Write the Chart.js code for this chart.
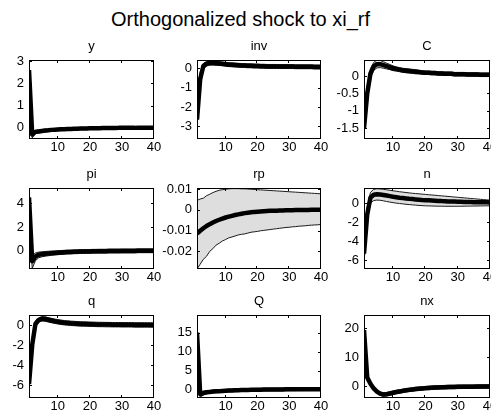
<!DOCTYPE html>
<html><head><meta charset="utf-8">
<script src="https://cdn.jsdelivr.net/npm/chart.js@4.4.1/dist/chart.umd.min.js"></script>
<style>
html,body{margin:0;padding:0;background:#fff;width:491px;height:417px;overflow:hidden;position:relative;}
#title{position:absolute;left:0;top:8px;width:481px;text-align:center;font-size:20px;line-height:23px;font-family:"Liberation Sans",Arial,sans-serif;color:#000;white-space:nowrap;}
canvas{position:absolute;}
</style></head><body>
<div id="title">Orthogonalized shock to xi_rf</div>
<script>
// ---------------- DATA ----------------
const periods = [1,2,3,4,5,6,7,8,9,10,11,12,13,14,15,16,17,18,19,20,21,22,23,24,25,26,27,28,29,30,31,32,33,34,35,36,37,38,39,40];
const xTicks = [10,20,30,40];
const panelNames = ['y','inv','C','pi','rp','n','q','Q','nx'];

const y_mean  = [2.60,-0.30,-0.18,-0.16,-0.14,-0.12,-0.11,-0.09,-0.08,-0.07,-0.06,-0.06,-0.05,-0.05,-0.04,-0.04,-0.03,-0.03,-0.03,-0.02,-0.02,-0.02,-0.02,-0.01,-0.01,-0.01,-0.01,-0.01,0.00,0.00,0.00,0.00,0.00,0.00,0.01,0.01,0.01,0.01,0.01,0.01];
const y_lower = [2.45,-0.45,-0.26,-0.23,-0.21,-0.19,-0.17,-0.15,-0.14,-0.13,-0.12,-0.11,-0.10,-0.10,-0.09,-0.09,-0.08,-0.08,-0.08,-0.07,-0.07,-0.07,-0.07,-0.06,-0.06,-0.06,-0.06,-0.06,-0.05,-0.05,-0.05,-0.05,-0.05,-0.05,-0.05,-0.05,-0.05,-0.05,-0.05,-0.05];
const y_upper = [2.75,-0.18,-0.11,-0.09,-0.08,-0.06,-0.05,-0.04,-0.03,-0.02,-0.01,-0.01,0.00,0.00,0.01,0.01,0.02,0.02,0.02,0.03,0.03,0.03,0.03,0.04,0.04,0.04,0.04,0.04,0.05,0.05,0.05,0.05,0.05,0.05,0.06,0.06,0.06,0.06,0.06,0.06];
const y_ticks = [0,1,2,3];
const y_tickLabels = ['0','1','2','3'];

const inv_mean  = [-2.65,-0.55,0.12,0.24,0.27,0.27,0.26,0.25,0.23,0.21,0.19,0.18,0.17,0.16,0.15,0.14,0.13,0.13,0.12,0.12,0.11,0.11,0.10,0.10,0.10,0.10,0.09,0.09,0.09,0.09,0.09,0.08,0.08,0.08,0.08,0.08,0.08,0.07,0.07,0.07];
const inv_lower = [-3.00,-1.00,-0.05,0.12,0.16,0.17,0.16,0.15,0.13,0.11,0.09,0.08,0.07,0.06,0.05,0.04,0.03,0.03,0.02,0.02,0.01,0.01,0.00,0.00,0.00,0.00,-0.01,-0.01,-0.01,-0.01,-0.01,-0.02,-0.02,-0.02,-0.02,-0.02,-0.02,-0.03,-0.03,-0.03];
const inv_upper = [-2.35,-0.20,0.25,0.34,0.37,0.37,0.36,0.35,0.33,0.31,0.29,0.28,0.27,0.26,0.25,0.24,0.23,0.23,0.22,0.22,0.21,0.21,0.20,0.20,0.20,0.20,0.19,0.19,0.19,0.19,0.19,0.18,0.18,0.18,0.18,0.18,0.18,0.17,0.17,0.17];
const inv_ticks = [-3,-2,-1,0];
const inv_tickLabels = ['-3','-2','-1','0'];

const C_mean  = [-1.50,-0.50,0.08,0.28,0.35,0.35,0.32,0.29,0.26,0.23,0.21,0.19,0.17,0.16,0.15,0.14,0.13,0.12,0.11,0.10,0.10,0.09,0.09,0.08,0.08,0.07,0.07,0.07,0.06,0.06,0.06,0.06,0.05,0.05,0.05,0.05,0.04,0.04,0.04,0.04];
const C_lower = [-1.70,-0.75,-0.05,0.17,0.24,0.25,0.23,0.21,0.19,0.16,0.15,0.13,0.11,0.10,0.09,0.08,0.07,0.07,0.06,0.05,0.05,0.04,0.04,0.03,0.03,0.02,0.02,0.02,0.01,0.01,0.01,0.01,0.00,0.00,0.00,0.00,-0.01,-0.01,-0.01,-0.01];
const C_upper = [-1.30,-0.28,0.22,0.40,0.47,0.46,0.42,0.38,0.34,0.30,0.27,0.25,0.23,0.22,0.21,0.20,0.19,0.17,0.16,0.15,0.15,0.14,0.14,0.13,0.13,0.12,0.12,0.12,0.11,0.11,0.11,0.11,0.10,0.10,0.10,0.10,0.09,0.09,0.09,0.09];
const C_ticks = [-1.5,-1,-0.5,0];
const C_tickLabels = ['-1.5','-1','-0.5','0'];

const pi_mean  = [4.50,-0.90,-0.50,-0.35,-0.30,-0.27,-0.24,-0.21,-0.19,-0.17,-0.15,-0.13,-0.12,-0.11,-0.10,-0.09,-0.08,-0.07,-0.06,-0.06,-0.05,-0.05,-0.04,-0.04,-0.04,-0.03,-0.03,-0.03,-0.03,-0.02,-0.02,-0.02,-0.02,-0.02,-0.01,-0.01,-0.01,-0.01,-0.01,-0.01];
const pi_lower = [4.15,-1.50,-0.85,-0.60,-0.52,-0.47,-0.43,-0.39,-0.36,-0.34,-0.32,-0.30,-0.28,-0.27,-0.26,-0.25,-0.24,-0.23,-0.22,-0.22,-0.21,-0.21,-0.20,-0.20,-0.20,-0.19,-0.19,-0.19,-0.19,-0.18,-0.18,-0.18,-0.18,-0.18,-0.17,-0.17,-0.17,-0.17,-0.17,-0.17];
const pi_upper = [4.85,-0.40,-0.20,-0.12,-0.09,-0.07,-0.05,-0.03,-0.02,0.00,0.01,0.03,0.04,0.05,0.06,0.07,0.08,0.09,0.10,0.10,0.11,0.11,0.12,0.12,0.12,0.13,0.13,0.13,0.13,0.14,0.14,0.14,0.14,0.14,0.15,0.15,0.15,0.15,0.15,0.15];
const pi_ticks = [0,2,4];
const pi_tickLabels = ['0','2','4'];

const rp_mean  = [-0.0115,-0.0101,-0.0089,-0.0078,-0.0069,-0.0061,-0.0054,-0.0048,-0.0042,-0.0037,-0.0033,-0.0029,-0.0025,-0.0022,-0.0019,-0.0016,-0.0014,-0.0012,-0.0010,-0.0009,-0.0008,-0.0007,-0.0006,-0.0005,-0.0004,-0.0004,-0.0003,-0.0003,-0.0002,-0.0002,-0.0002,-0.0001,-0.0001,-0.0001,-0.0001,-0.0001,0.0000,0.0000,0.0000,0.0000];
const rp_lower = [-0.0285,-0.0262,-0.0238,-0.0224,-0.0200,-0.0187,-0.0170,-0.0161,-0.0150,-0.0143,-0.0135,-0.0131,-0.0126,-0.0121,-0.0118,-0.0116,-0.0112,-0.0108,-0.0106,-0.0104,-0.0101,-0.0099,-0.0097,-0.0095,-0.0093,-0.0091,-0.0089,-0.0087,-0.0085,-0.0084,-0.0082,-0.0081,-0.0079,-0.0078,-0.0077,-0.0075,-0.0074,-0.0073,-0.0072,-0.0071];
const rp_upper = [0.0045,0.0052,0.0056,0.0068,0.0075,0.0083,0.0089,0.0094,0.0097,0.0099,0.0101,0.0102,0.0102,0.0102,0.0101,0.0101,0.0100,0.0099,0.0098,0.0097,0.0096,0.0095,0.0094,0.0093,0.0092,0.0091,0.0090,0.0089,0.0088,0.0087,0.0086,0.0085,0.0084,0.0083,0.0082,0.0081,0.0080,0.0079,0.0078,0.0077];
const rp_ticks = [-0.02,-0.01,0,0.01];
const rp_tickLabels = ['-0.02','-0.01','0','0.01'];

const n_mean  = [-5.30,-1.20,0.55,0.85,0.90,0.88,0.83,0.77,0.71,0.65,0.60,0.55,0.51,0.47,0.43,0.40,0.37,0.34,0.31,0.29,0.27,0.25,0.23,0.21,0.19,0.18,0.16,0.15,0.14,0.13,0.12,0.11,0.10,0.09,0.08,0.08,0.07,0.06,0.06,0.05];
const n_lower = [-6.30,-2.00,0.00,0.25,0.30,0.28,0.22,0.15,0.09,0.03,-0.02,-0.06,-0.10,-0.14,-0.17,-0.20,-0.23,-0.26,-0.28,-0.30,-0.31,-0.32,-0.33,-0.34,-0.34,-0.35,-0.35,-0.35,-0.35,-0.35,-0.34,-0.34,-0.33,-0.33,-0.32,-0.32,-0.31,-0.31,-0.30,-0.30];
const n_upper = [-4.40,-0.40,1.10,1.42,1.48,1.46,1.42,1.37,1.32,1.27,1.22,1.17,1.13,1.09,1.05,1.01,0.98,0.95,0.92,0.89,0.86,0.83,0.80,0.77,0.74,0.71,0.68,0.65,0.62,0.59,0.56,0.53,0.50,0.47,0.44,0.41,0.38,0.35,0.32,0.30];
const n_ticks = [-6,-4,-2,0];
const n_tickLabels = ['-6','-4','-2','0'];

const q_mean  = [-5.90,-2.00,0.10,0.50,0.62,0.60,0.52,0.45,0.38,0.32,0.27,0.23,0.20,0.17,0.15,0.13,0.11,0.10,0.09,0.08,0.07,0.06,0.05,0.05,0.04,0.04,0.03,0.03,0.03,0.02,0.02,0.02,0.02,0.01,0.01,0.01,0.01,0.01,0.00,0.00];
const q_lower = [-6.50,-2.80,-0.20,0.28,0.40,0.38,0.30,0.23,0.16,0.10,0.05,0.01,-0.02,-0.05,-0.07,-0.09,-0.11,-0.12,-0.13,-0.14,-0.15,-0.16,-0.17,-0.17,-0.18,-0.18,-0.19,-0.19,-0.19,-0.20,-0.20,-0.20,-0.20,-0.21,-0.21,-0.21,-0.21,-0.21,-0.22,-0.22];
const q_upper = [-5.30,-1.30,0.38,0.72,0.84,0.82,0.74,0.67,0.60,0.54,0.49,0.45,0.42,0.39,0.37,0.35,0.33,0.32,0.31,0.30,0.29,0.28,0.27,0.27,0.26,0.26,0.25,0.25,0.25,0.24,0.24,0.24,0.24,0.23,0.23,0.23,0.23,0.23,0.22,0.22];
const q_ticks = [-6,-4,-2,0];
const q_tickLabels = ['-6','-4','-2','0'];

const Q_mean  = [15.00,-1.20,-0.90,-0.70,-0.60,-0.50,-0.45,-0.40,-0.35,-0.30,-0.26,-0.22,-0.19,-0.16,-0.13,-0.10,-0.08,-0.06,-0.04,-0.02,-0.01,0.00,0.01,0.02,0.03,0.04,0.05,0.06,0.07,0.08,0.08,0.09,0.10,0.10,0.11,0.11,0.12,0.12,0.13,0.13];
const Q_lower = [14.20,-2.00,-1.40,-1.10,-0.98,-0.87,-0.81,-0.75,-0.70,-0.65,-0.61,-0.57,-0.54,-0.51,-0.48,-0.45,-0.43,-0.41,-0.39,-0.37,-0.36,-0.35,-0.34,-0.33,-0.32,-0.31,-0.30,-0.29,-0.28,-0.27,-0.27,-0.26,-0.25,-0.25,-0.24,-0.24,-0.23,-0.23,-0.22,-0.22];
const Q_upper = [15.80,-0.50,-0.45,-0.35,-0.25,-0.15,-0.10,-0.05,0.00,0.05,0.09,0.13,0.16,0.19,0.22,0.25,0.27,0.29,0.31,0.33,0.34,0.35,0.36,0.37,0.38,0.39,0.40,0.41,0.42,0.43,0.43,0.44,0.45,0.45,0.46,0.46,0.47,0.47,0.48,0.48];
const Q_ticks = [0,5,10,15];
const Q_tickLabels = ['0','5','10','15'];

const nx_mean  = [19.30,3.00,0.80,-0.80,-1.90,-2.60,-2.90,-2.80,-2.55,-2.30,-2.05,-1.85,-1.65,-1.45,-1.30,-1.15,-1.00,-0.90,-0.80,-0.70,-0.62,-0.55,-0.49,-0.44,-0.40,-0.36,-0.33,-0.30,-0.28,-0.26,-0.24,-0.22,-0.21,-0.20,-0.19,-0.18,-0.17,-0.16,-0.15,-0.15];
const nx_lower = [18.00,1.80,0.20,-1.40,-2.50,-3.20,-3.50,-3.40,-3.15,-2.90,-2.65,-2.45,-2.25,-2.05,-1.90,-1.75,-1.60,-1.50,-1.40,-1.30,-1.22,-1.15,-1.09,-1.04,-1.00,-0.96,-0.93,-0.90,-0.88,-0.86,-0.84,-0.82,-0.81,-0.80,-0.79,-0.78,-0.77,-0.76,-0.75,-0.75];
const nx_upper = [20.50,4.20,1.40,-0.20,-1.30,-2.00,-2.30,-2.20,-1.95,-1.70,-1.45,-1.25,-1.05,-0.85,-0.70,-0.55,-0.40,-0.30,-0.20,-0.10,-0.02,0.05,0.11,0.16,0.20,0.24,0.27,0.30,0.32,0.34,0.36,0.38,0.39,0.40,0.41,0.42,0.43,0.44,0.45,0.45];
const nx_ticks = [0,10,20];
const nx_tickLabels = ['0','10','20'];

// axis limits
const yMins = [-0.50,-3.65,-1.82,-1.55,-0.0285,-6.90,-7.30,-2.20,-4.10];
const yMaxs = [3.05,0.43,0.47,5.30,0.0105,1.56,1.00,19.60,24.50];

// ---------------- LAYOUT ----------------
const colL = [29,197,364], colR = [154,321,490];
const rowT = [60,188,315], rowB = [139,269,398];
const AXW = 45, TITLEH = 22, XAXH = 20, PADR = 14;
const FONT = '"Liberation Sans", Arial, sans-serif';

Chart.defaults.font.family = FONT;
Chart.defaults.font.size = 13;
Chart.defaults.color = '#000';

const boxPlugin = {
  id: 'matlabBox',
  afterDraw(chart) {
    const {ctx, chartArea: a, scales: {x, y}} = chart;
    ctx.save();
    ctx.strokeStyle = '#000';
    ctx.lineWidth = 1;
    ctx.strokeRect(a.left + 0.5, a.top + 0.5, a.right - a.left - 1, a.bottom - a.top - 1);
    ctx.beginPath();
    const tl = 3;
    x.ticks.forEach(t => {
      const px = Math.round(x.getPixelForValue(t.value)) - 0.5;
      ctx.moveTo(px, a.bottom); ctx.lineTo(px, a.bottom - tl);
      ctx.moveTo(px, a.top); ctx.lineTo(px, a.top + tl);
    });
    y.ticks.forEach(t => {
      const py = Math.round(y.getPixelForValue(t.value)) + 0.5;
      ctx.moveTo(a.left, py); ctx.lineTo(a.left + tl, py);
      ctx.moveTo(a.right, py); ctx.lineTo(a.right - tl, py);
    });
    ctx.stroke();
    ctx.restore();
  }
};

const series = {
  y: [y_mean, y_lower, y_upper, y_ticks, y_tickLabels],
  inv: [inv_mean, inv_lower, inv_upper, inv_ticks, inv_tickLabels],
  C: [C_mean, C_lower, C_upper, C_ticks, C_tickLabels],
  pi: [pi_mean, pi_lower, pi_upper, pi_ticks, pi_tickLabels],
  rp: [rp_mean, rp_lower, rp_upper, rp_ticks, rp_tickLabels],
  n: [n_mean, n_lower, n_upper, n_ticks, n_tickLabels],
  q: [q_mean, q_lower, q_upper, q_ticks, q_tickLabels],
  Q: [Q_mean, Q_lower, Q_upper, Q_ticks, Q_tickLabels],
  nx: [nx_mean, nx_lower, nx_upper, nx_ticks, nx_tickLabels]
};

panelNames.forEach((name, i) => {
  const r = Math.floor(i / 3), c = i % 3;
  const L = colL[c], R = colR[c], T = rowT[r], B = rowB[r];
  const cv = document.createElement('canvas');
  const w = (R - L) + AXW + PADR, h = (B - T) + TITLEH + XAXH;
  cv.width = w; cv.height = h;
  cv.style.left = (L - AXW) + 'px';
  cv.style.top = (T - TITLEH) + 'px';
  cv.style.width = w + 'px'; cv.style.height = h + 'px';
  document.body.appendChild(cv);
  const [mean, lower, upper, ticks, tickLabels] = series[name];
  new Chart(cv, {
    type: 'line',
    data: {
      labels: periods,
      datasets: [
        {data: mean, borderColor: '#000', borderWidth: 4.5, pointRadius: 0, fill: false, order: 0, clip: 0, borderJoinStyle: 'round'},
        {data: lower, borderColor: '#1a1a1a', borderWidth: 1, pointRadius: 0, fill: false, order: 1, clip: 0},
        {data: upper, borderColor: '#1a1a1a', borderWidth: 1, pointRadius: 0, fill: '-1', backgroundColor: '#dedede', order: 2, clip: 0}
      ]
    },
    options: {
      responsive: false,
      animation: false,
      devicePixelRatio: 1,
      events: [],
      layout: {padding: {left: 0, top: 0, bottom: 0, right: PADR}},
      plugins: {
        legend: {display: false},
        tooltip: {enabled: false},
        title: {display: true, text: name, fullSize: false, color: '#000',
                font: {size: 13, family: FONT, weight: 'normal', lineHeight: 1},
                padding: {top: 2, bottom: 7}}
      },
      scales: {
        x: {
          type: 'linear', min: 1, max: 40,
          grid: {display: false, drawTicks: false}, border: {display: false},
          ticks: {padding: 1, maxRotation: 0, autoSkip: false, color: '#000', font: {size: 13}},
          afterBuildTicks: s => { s.ticks = xTicks.map(v => ({value: v})); },
          afterFit: s => { s.height = XAXH; s.paddingLeft = 0; s.paddingRight = 0; }
        },
        y: {
          type: 'linear', min: yMins[i], max: yMaxs[i],
          grid: {display: false, drawTicks: false}, border: {display: false},
          ticks: {padding: 5, autoSkip: false, color: '#000', font: {size: 13},
                  callback: (v, idx) => tickLabels[idx]},
          afterBuildTicks: s => { s.ticks = ticks.map(v => ({value: v})); },
          afterFit: s => { s.width = AXW; s.paddingTop = 0; s.paddingBottom = 0; }
        }
      }
    },
    plugins: [boxPlugin]
  });
});
</script>
</body></html>
